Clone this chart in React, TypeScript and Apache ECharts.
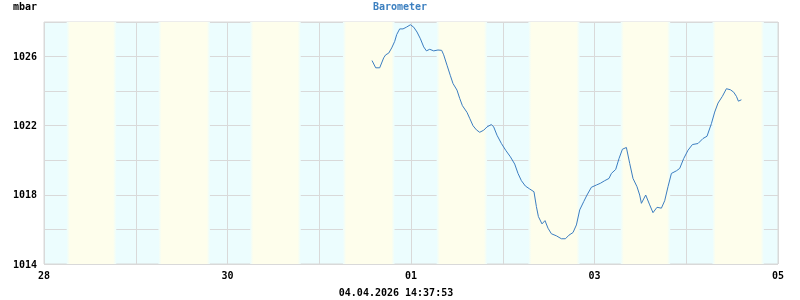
import React, { useEffect, useRef } from "react";
import * as echarts from "echarts";

// hours since 28.03 00:00
const hours = [85.8, 86.77, 87.81, 88.86, 89.38, 90.17, 90.95, 91.74, 92.26, 93.04, 93.91, 94.8, 95.84, 96.71, 97.57, 98.46, 99.32, 100.03, 100.89, 101.94, 103.06, 104.03, 104.55, 105.42, 106.31, 106.99, 108.03, 108.74, 109.45, 110.65, 111.35, 112.22, 113.11, 113.97, 115.02, 115.88, 117.03, 117.63, 118.5, 119.65, 120.77, 122.0, 123.13, 123.99, 124.88, 125.92, 127.05, 128.17, 128.8, 129.33, 130.27, 131.05, 131.84, 132.72, 134.03, 135.34, 136.39, 137.33, 138.38, 139.27, 140.13, 141.18, 142.04, 143.19, 144.5, 145.54, 146.67, 147.79, 148.42, 149.55, 150.41, 151.3, 152.34, 153.21, 154.07, 155.12, 155.82, 156.27, 157.39, 158.44, 159.3, 160.35, 161.5, 162.36, 163.23, 164.12, 165.42, 166.29, 167.33, 168.46, 169.61, 171.07, 172.38, 173.43, 174.58, 175.44, 176.31, 177.45, 178.5, 179.55, 180.41, 181.12, 181.64, 182.43];
const pressure = [1025.77, 1025.35, 1025.35, 1025.93, 1026.1, 1026.2, 1026.5, 1026.88, 1027.27, 1027.6, 1027.6, 1027.7, 1027.84, 1027.7, 1027.42, 1027.03, 1026.56, 1026.33, 1026.42, 1026.33, 1026.38, 1026.36, 1026.1, 1025.5, 1024.89, 1024.44, 1024.06, 1023.58, 1023.16, 1022.77, 1022.43, 1022.0, 1021.76, 1021.62, 1021.74, 1021.93, 1022.07, 1021.93, 1021.45, 1020.97, 1020.58, 1020.2, 1019.78, 1019.24, 1018.82, 1018.51, 1018.34, 1018.18, 1017.32, 1016.74, 1016.32, 1016.51, 1016.07, 1015.75, 1015.63, 1015.46, 1015.46, 1015.67, 1015.82, 1016.26, 1017.13, 1017.61, 1017.99, 1018.44, 1018.57, 1018.67, 1018.82, 1018.95, 1019.24, 1019.47, 1020.1, 1020.64, 1020.74, 1019.82, 1018.95, 1018.47, 1017.99, 1017.51, 1017.99, 1017.42, 1016.97, 1017.28, 1017.23, 1017.66, 1018.47, 1019.24, 1019.39, 1019.53, 1020.1, 1020.58, 1020.91, 1020.97, 1021.26, 1021.39, 1022.12, 1022.79, 1023.31, 1023.7, 1024.14, 1024.08, 1023.94, 1023.7, 1023.42, 1023.5];

// x tick labels, one per day (28.03 .. 05.04)
const xTickLabels = ["28", "", "30", "", "01", "", "03", "", "05"];
// y tick labels shown
const yTickLabels = ["1014", "1018", "1022", "1026"];
// daylight (hour of sunrise / sunset) per day
const sunrise = [6.33, 6.33, 6.33, 6.6, 7.1, 7.1, 7.25, 7.25];
const sunset = [18.5, 19.0, 18.76, 19.3, 19.5, 19.7, 19.4, 19.9];

const NIGHT = "#ecfdfe";
const DAY = "#fefeec";
const FONT = "DejaVu Sans Mono";

export default function App() {
  const ref = useRef<HTMLDivElement>(null);
  useEffect(() => {
    if (!ref.current) return;
    const chart = echarts.init(ref.current, null, { renderer: "svg" });
    const tr = 0.4;
    const bands = sunrise.map((r, i) => {
      const a = i * 24 + r - tr;
      const b = i * 24 + sunset[i] + tr;
      const f = (2 * tr) / (b - a);
      return [
        {
          xAxis: a,
          itemStyle: {
            color: {
              type: "linear", x: 0, y: 0, x2: 1, y2: 0,
              colorStops: [
                { offset: 0, color: NIGHT },
                { offset: f, color: DAY },
                { offset: 1 - f, color: DAY },
                { offset: 1, color: NIGHT },
              ],
            },
          },
        },
        { xAxis: b },
      ];
    });
    chart.setOption({
      animation: false,
      grid: {
        left: 44, right: 22, top: 22, bottom: 36,
        show: true, backgroundColor: NIGHT, borderColor: "#d9d9d9", borderWidth: 1,
      },
      xAxis: {
        type: "value", min: 0, max: 192, interval: 24,
        axisLine: { show: false }, axisTick: { show: false },
        splitLine: { show: true, lineStyle: { color: "#d9d9d9", width: 1 } },
        axisLabel: {
          margin: 6, showMinLabel: true, showMaxLabel: true,
          fontFamily: FONT, fontWeight: "bold", fontSize: 10, color: "#000",
          formatter: (v: number) => xTickLabels[Math.round(v / 24)] ?? "",
        },
      },
      yAxis: {
        type: "value", min: 1014, max: 1028, interval: 2,
        axisLine: { show: false }, axisTick: { show: false },
        splitLine: { show: true, lineStyle: { color: "#d9d9d9", width: 1 } },
        axisLabel: {
          margin: 7, showMinLabel: true,
          fontFamily: FONT, fontWeight: "bold", fontSize: 10, color: "#000",
          formatter: (v: number) => (yTickLabels.includes(String(v)) ? String(v) : ""),
        },
      },
      graphic: [
        { type: "text", x: 13, y: 6, style: { text: "mbar", font: `bold 10px "${FONT}"`, fill: "#000", textVerticalAlign: "middle" } },
        { type: "text", x: 400, y: 6, style: { text: "Barometer", font: `bold 10px "${FONT}"`, fill: "#3d80c0", textAlign: "center", textVerticalAlign: "middle" } },
        { type: "text", x: 396, y: 292, style: { text: "04.04.2026 14:37:53", font: `bold 10px "${FONT}"`, fill: "#000", textAlign: "center", textVerticalAlign: "middle" } },
      ],
      series: [
        {
          type: "line",
          data: hours.map((h, i) => [h, pressure[i]]),
          showSymbol: false,
          lineStyle: { color: "#3b7dc0", width: 1 },
          itemStyle: { color: "#3b7dc0" },
          markArea: { silent: true, data: bands },
          z: 3,
        },
      ],
    });
    return () => chart.dispose();
  }, []);
  return <div ref={ref} style={{ position: "fixed", left: 0, top: 0, width: 800, height: 300 }} />;
}
